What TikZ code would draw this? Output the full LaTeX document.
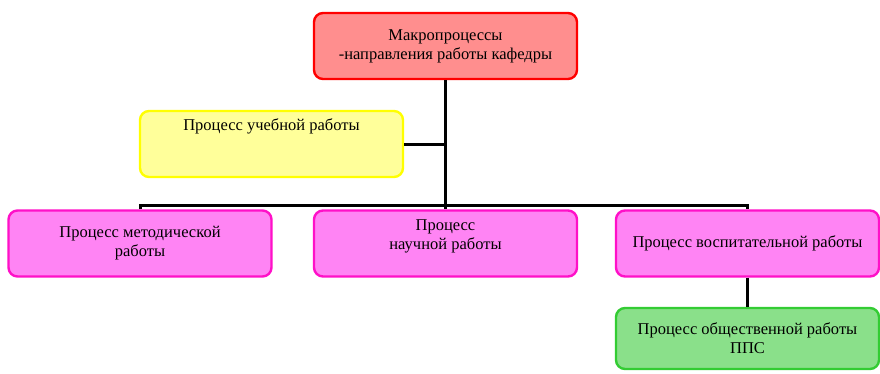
\documentclass[tikz,border=0pt]{standalone}
\usepackage{fontspec}
\setmainfont{Liberation Serif}
\usepackage{xcolor}
\usepackage{tikz}

\definecolor{redline}{HTML}{FF0000}
\definecolor{redfill}{HTML}{FF8E8E}
\definecolor{yelline}{HTML}{FFFF00}
\definecolor{yelfill}{HTML}{FFFF9A}
\definecolor{magline}{HTML}{FF10C8}
\definecolor{magfill}{HTML}{FF84F4}
\definecolor{grnline}{HTML}{33CC33}
\definecolor{grnfill}{HTML}{8AE08A}

\begin{document}
\begin{tikzpicture}[x=1pt, y=-1pt,
  proc/.style={draw, rounded corners=9pt, line width=2.4pt, align=center,
    minimum width=263pt, minimum height=66pt, inner sep=0pt,
    font=\fontsize{16.5}{19}\selectfont},
  conn/.style={line width=3pt}]
\useasboundingbox (0,0) rectangle (880,373);

% macro process
\node[proc, draw=redline, fill=redfill] (macro) at (445.5, 46)
  {Макропроцессы\\-направления работы кафедры};

% teaching work, text at the top
\node[proc, draw=yelline, fill=yelfill, text height=17pt, text depth=45pt] (teach) at (271.5, 144)
  {Процесс учебной работы};

% three processes on the bar
\node[proc, draw=magline, fill=magfill] (method) at (140, 243.5)
  {Процесс методической\\работы};
\node[proc, draw=magline, fill=magfill, text depth=18pt] (science) at (445.5, 243.5)
  {Процесс\\научной работы};
\node[proc, draw=magline, fill=magfill] (educ) at (747.5, 243.5)
  {Процесс воспитательной работы};

% public work
\node[proc, draw=grnline, fill=grnfill, minimum height=61pt] (public) at (747.5, 338.5)
  {Процесс общественной работы\\ППС};

\coordinate (bar) at (445.5, 205); % horizontal bar

% connectors
\draw[conn] (macro.south) -- (science.north);
\draw[conn] (teach.east) -- (teach.east -| macro.south);
\draw[conn] (method.north) |- (bar) -| (educ.north);
\draw[conn] (educ.south) -- (public.north);
\end{tikzpicture}
\end{document}
